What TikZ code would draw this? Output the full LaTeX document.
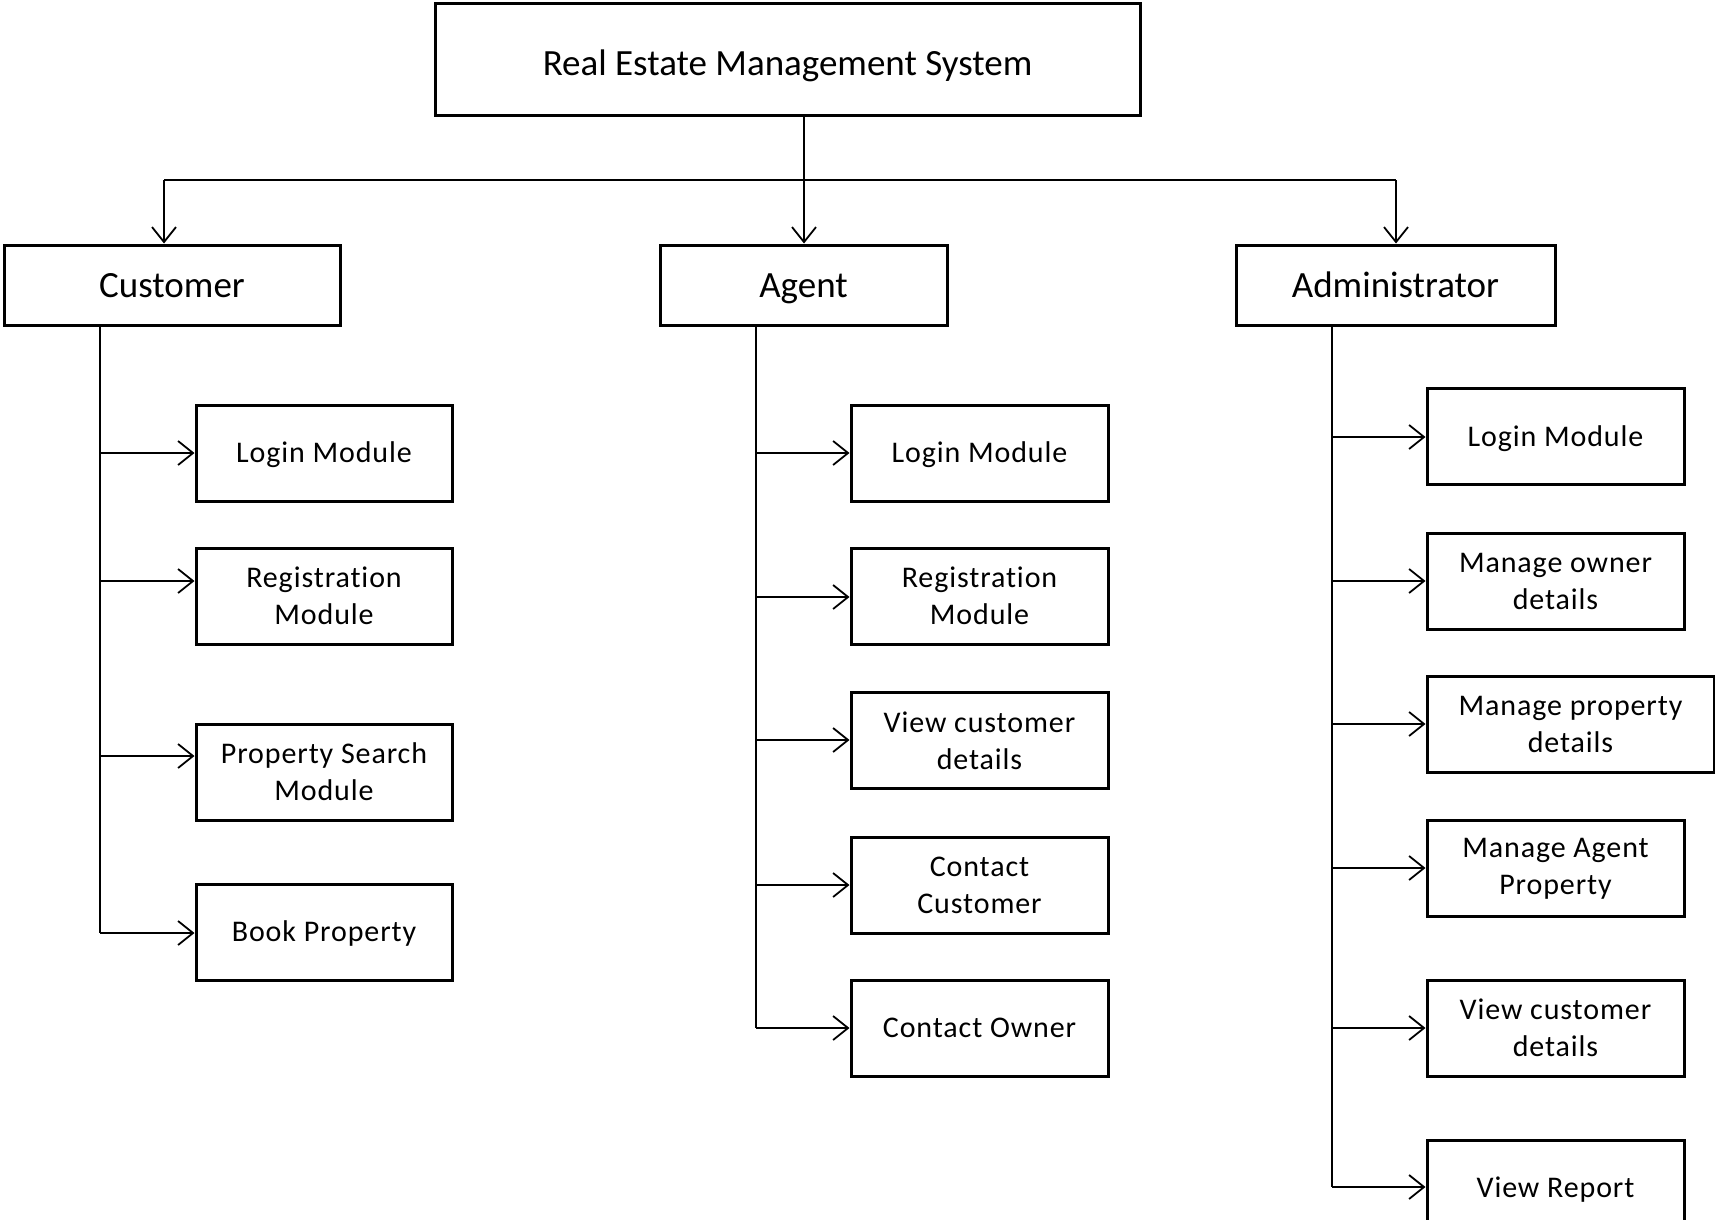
\documentclass[tikz,border=0pt]{standalone}
\usepackage{fontspec}
\setmainfont[Ligatures=NoCommon]{Carlito}
\newfontfamily\kidfont[LetterSpace=3,Ligatures=NoCommon]{Carlito}
\usetikzlibrary{arrows.meta}
\tikzset{
  box/.style={draw, line width=3pt, inner sep=0pt, align=center, minimum height=96pt},
  headbox/.style={draw, line width=3pt, inner sep=0pt, align=center, text height=24pt, text depth=0pt, font=\fontsize{37}{44}\selectfont},
  kid/.style={box, minimum width=257pt, font=\kidfont\fontsize{30}{37}\selectfont},
  oneline/.style={text height=19.5pt, text depth=0pt},
  link/.style={line width=1.5pt},
  arr/.style={line width=1.5pt, -{Straight Barb[length=15pt,width=24pt,line width=1.8pt]}}
}
\begin{document}
\begin{tikzpicture}[x=1pt,y=-1pt]
\useasboundingbox (0,0) rectangle (1715,1220);
% top
\node[headbox, text height=32pt, minimum width=705pt, minimum height=112pt] (top) at (787.5,60) {Real Estate Management System};
\node[headbox, minimum width=336pt, minimum height=80pt] (cust) at (172,285) {Customer};
\node[headbox, minimum width=287pt, minimum height=80pt] (agent) at (803.5,285) {Agent};
\node[headbox, minimum width=319pt, minimum height=80pt] (admin) at (1395.5,285) {Administrator};
\coordinate (hl) at (164,180);
\coordinate (hm) at (804,180);
\coordinate (hr) at (1396,180);
\draw[link] (hl) -- (hr);
\draw[arr] (hm |- top.south) -- (hm |- agent.north);
\draw[arr] (hl) -- (hl |- cust.north);
\draw[arr] (hr) -- (hr |- admin.north);
% customer children
\node[kid, oneline, minimum width=256pt] (c1) at (324,453) {Login Module};
\node[kid, minimum width=256pt] (c2) at (324,596) {Registration\\Module};
\node[kid, minimum width=256pt] (c3) at (324,772) {Property Search\\Module};
\node[kid, oneline, minimum width=256pt] (c4) at (324,932) {Book Property};
\coordinate (ct) at (100,325);
\coordinate (ca) at (100,453);
\coordinate (cb) at (100,581);
\coordinate (cc) at (100,756);
\coordinate (cd) at (100,933);
\draw[link] (ct) -- (cd);
\draw[arr] (ca) -- (c1.west |- ca);
\draw[arr] (cb) -- (c2.west |- cb);
\draw[arr] (cc) -- (c3.west |- cc);
\draw[arr] (cd) -- (c4.west |- cd);
% agent children
\node[kid, oneline] (a1) at (979.5,453) {Login Module};
\node[kid] (a2) at (979.5,596) {Registration\\Module};
\node[kid] (a3) at (979.5,740.5) {View customer\\details};
\node[kid] (a4) at (979.5,885) {Contact\\Customer};
\node[kid, oneline] (a5) at (979.5,1028) {Contact Owner};
\coordinate (at) at (756,325);
\coordinate (aa) at (756,453);
\coordinate (ab) at (756,597);
\coordinate (ac) at (756,740);
\coordinate (ad) at (756,885);
\coordinate (ae) at (756,1028);
\draw[link] (at) -- (ae);
\draw[arr] (aa) -- (a1.west |- aa);
\draw[arr] (ab) -- (a2.west |- ab);
\draw[arr] (ac) -- (a3.west |- ac);
\draw[arr] (ad) -- (a4.west |- ad);
\draw[arr] (ae) -- (a5.west |- ae);
% admin children
\node[kid, oneline] (d1) at (1555.5,436.5) {Login Module};
\node[kid] (d2) at (1555.5,581) {Manage owner\\details};
\node[kid, minimum width=287pt] (d3) at (1570.5,724) {Manage property\\details};
\node[kid] (d4) at (1555.5,868.5) {Manage Agent\\Property};
\node[kid] (d5) at (1555.5,1028) {View customer\\details};
\node[kid, oneline] (d6) at (1555.5,1188) {View Report};
\coordinate (dt) at (1332,325);
\coordinate (da) at (1332,437);
\coordinate (db) at (1332,581);
\coordinate (dc) at (1332,724);
\coordinate (dd) at (1332,868);
\coordinate (de) at (1332,1028);
\coordinate (df) at (1332,1187);
\draw[link] (dt) -- (df);
\draw[arr] (da) -- (d1.west |- da);
\draw[arr] (db) -- (d2.west |- db);
\draw[arr] (dc) -- (d3.west |- dc);
\draw[arr] (dd) -- (d4.west |- dd);
\draw[arr] (de) -- (d5.west |- de);
\draw[arr] (df) -- (d6.west |- df);
\end{tikzpicture}
\end{document}
